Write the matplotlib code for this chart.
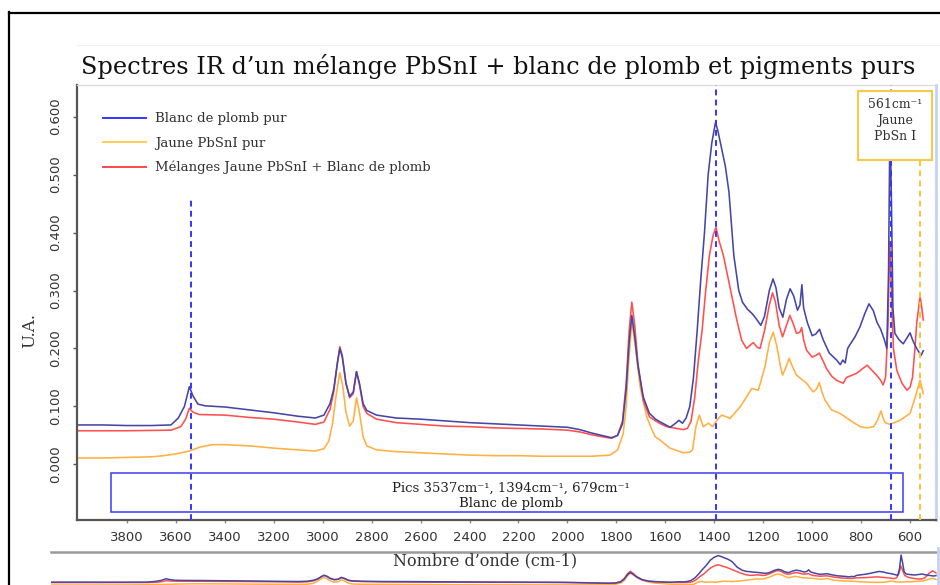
import matplotlib
matplotlib.use("Agg")
import matplotlib.pyplot as plt
from matplotlib.lines import Line2D
from matplotlib.patches import Rectangle

W, H, DPI = 940, 585, 100
SERIF = "DejaVu Serif"

# --- spectra (wavenumber in cm-1, absorbance in U.A.) ---
wn_blanc = [4000, 3900, 3800, 3700, 3620, 3590, 3565, 3545, 3530, 3510, 3480, 3400, 3300, 3200,
            3100, 3030, 2995, 2970, 2955, 2940, 2930, 2920, 2905, 2890, 2875, 2862, 2850, 2835,
            2820, 2780, 2700, 2600, 2500, 2400, 2300, 2200, 2100, 2000, 1950, 1900, 1850, 1820,
            1795, 1775, 1760, 1748, 1737, 1725, 1712, 1690, 1665, 1640, 1620, 1580, 1555, 1545,
            1530, 1515, 1500, 1485, 1470, 1455, 1440, 1425, 1410, 1395, 1385, 1370, 1355, 1340,
            1320, 1300, 1285, 1265, 1245, 1230, 1210, 1195, 1175, 1160, 1148, 1135, 1120, 1105,
            1090, 1075, 1060, 1050, 1042, 1035, 1020, 1000, 985, 970, 955, 930, 900, 885, 875,
            865, 855, 845, 825, 805, 785, 768, 750, 735, 720, 705, 695, 688, 682, 676, 670, 662,
            645, 628, 610, 600, 590, 573, 555, 546]
ua_blanc = [0.068, 0.068, 0.067, 0.067, 0.068, 0.080, 0.100, 0.134, 0.118, 0.104, 0.101, 0.099,
            0.094, 0.089, 0.083, 0.080, 0.085, 0.105, 0.130, 0.175, 0.200, 0.185, 0.140, 0.117,
            0.125, 0.160, 0.140, 0.105, 0.093, 0.085, 0.080, 0.078, 0.075, 0.072, 0.070, 0.068,
            0.066, 0.064, 0.060, 0.054, 0.049, 0.046, 0.050, 0.070, 0.130, 0.210, 0.257, 0.220,
            0.170, 0.116, 0.088, 0.078, 0.073, 0.064, 0.072, 0.076, 0.071, 0.080, 0.100, 0.150,
            0.230, 0.320, 0.400, 0.500, 0.555, 0.590, 0.575, 0.545, 0.515, 0.470, 0.360, 0.300,
            0.280, 0.268, 0.260, 0.252, 0.240, 0.255, 0.300, 0.320, 0.305, 0.270, 0.254, 0.285,
            0.303, 0.290, 0.266, 0.275, 0.310, 0.270, 0.245, 0.222, 0.225, 0.233, 0.215, 0.192,
            0.180, 0.172, 0.180, 0.175, 0.200, 0.207, 0.220, 0.237, 0.260, 0.277, 0.265, 0.245,
            0.233, 0.215, 0.200, 0.330, 0.600, 0.450, 0.270, 0.226, 0.215, 0.208, 0.220, 0.227,
            0.215, 0.200, 0.188, 0.196]

wn_jaune = [4000, 3900, 3800, 3700, 3650, 3600, 3545, 3500, 3450, 3400, 3300, 3200, 3100, 3030,
            2995, 2975, 2960, 2945, 2930, 2918, 2905, 2890, 2875, 2862, 2850, 2835, 2820, 2780,
            2700, 2600, 2500, 2400, 2300, 2200, 2100, 2000, 1900, 1826, 1795, 1772, 1760, 1751,
            1737, 1724, 1703, 1676, 1655, 1642, 1622, 1581, 1527, 1500, 1489, 1475, 1461, 1445,
            1424, 1406, 1390, 1370, 1350, 1336, 1295, 1270, 1247, 1220, 1193, 1175, 1159, 1145,
            1130, 1121, 1105, 1094, 1080, 1064, 1023, 996, 982, 971, 960, 948, 921, 886, 845,
            804, 775, 749, 733, 719, 710, 702, 682, 641, 600, 580, 559, 546]
ua_jaune = [0.011, 0.011, 0.012, 0.013, 0.015, 0.018, 0.023, 0.030, 0.034, 0.034, 0.032, 0.028,
            0.025, 0.023, 0.027, 0.040, 0.070, 0.120, 0.158, 0.135, 0.090, 0.066, 0.075, 0.115,
            0.090, 0.048, 0.032, 0.025, 0.022, 0.020, 0.018, 0.016, 0.015, 0.015, 0.014, 0.014,
            0.014, 0.016, 0.025, 0.053, 0.100, 0.168, 0.246, 0.208, 0.134, 0.082, 0.060, 0.048,
            0.042, 0.028, 0.020, 0.021, 0.025, 0.065, 0.085, 0.065, 0.071, 0.065, 0.076, 0.085,
            0.082, 0.079, 0.099, 0.115, 0.131, 0.128, 0.168, 0.210, 0.228, 0.205, 0.170, 0.154,
            0.170, 0.183, 0.168, 0.154, 0.140, 0.125, 0.130, 0.141, 0.125, 0.111, 0.094, 0.088,
            0.076, 0.065, 0.063, 0.065, 0.076, 0.092, 0.080, 0.072, 0.069, 0.076, 0.088, 0.114,
            0.145, 0.122]

wn_melange = [4000, 3800, 3620, 3580, 3560, 3545, 3530, 3505, 3400, 3300, 3200, 3100, 3030, 2995,
              2970, 2955, 2940, 2930, 2920, 2905, 2890, 2875, 2862, 2850, 2835, 2820, 2780, 2700,
              2600, 2500, 2400, 2300, 2200, 2100, 2000, 1950, 1900, 1850, 1820, 1795, 1775, 1760,
              1748, 1737, 1725, 1712, 1690, 1665, 1640, 1620, 1594, 1554, 1527, 1510, 1495, 1480,
              1465, 1450, 1435, 1420, 1405, 1393, 1380, 1363, 1336, 1308, 1288, 1268, 1250, 1240,
              1225, 1213, 1195, 1175, 1162, 1150, 1135, 1121, 1105, 1091, 1075, 1064, 1050, 1043,
              1035, 1023, 1000, 985, 971, 955, 941, 920, 900, 885, 873, 860, 848, 818, 795, 775,
              755, 737, 720, 710, 700, 690, 683, 676, 668, 654, 633, 613, 600, 590, 580, 573, 559,
              552, 546]
ua_melange = [0.058, 0.058, 0.059, 0.065, 0.078, 0.097, 0.090, 0.086, 0.085, 0.081, 0.078, 0.073,
              0.069, 0.073, 0.095, 0.125, 0.175, 0.203, 0.188, 0.140, 0.115, 0.122, 0.160, 0.138,
              0.100, 0.088, 0.078, 0.072, 0.069, 0.066, 0.065, 0.063, 0.062, 0.061, 0.059, 0.056,
              0.051, 0.047, 0.045, 0.050, 0.075, 0.140, 0.230, 0.280, 0.240, 0.175, 0.110, 0.082,
              0.075, 0.070, 0.065, 0.062, 0.060, 0.062, 0.074, 0.115, 0.180, 0.230, 0.300, 0.360,
              0.395, 0.409, 0.385, 0.361, 0.306, 0.249, 0.214, 0.200, 0.207, 0.210, 0.202, 0.200,
              0.230, 0.275, 0.296, 0.280, 0.240, 0.220, 0.240, 0.257, 0.240, 0.226, 0.228, 0.236,
              0.215, 0.197, 0.185, 0.188, 0.192, 0.178, 0.165, 0.152, 0.145, 0.142, 0.140, 0.150,
              0.152, 0.157, 0.165, 0.171, 0.162, 0.154, 0.145, 0.137, 0.150, 0.240, 0.385, 0.300,
              0.200, 0.162, 0.140, 0.128, 0.133, 0.150, 0.200, 0.243, 0.290, 0.270, 0.249]

labels = ["Blanc de plomb pur", "Jaune PbSnI pur", "Mélanges Jaune PbSnI + Blanc de plomb"]
line_colors = ["#4646a6", "#ffb040", "#ff4f4f"]
legend_colors = ["#3434ff", "#ffcc58", "#ff4848"]

# characteristic bands
pics_blanc = [3537, 1394, 679]
pic_jaune = 561

x_ticks = list(range(3800, 500, -200))
y_ticks = [0.0, 0.1, 0.2, 0.3, 0.4, 0.5, 0.6]


def fx(px):
    return px / W


def fy(py):
    return 1 - py / H


fig = plt.figure(figsize=(W / DPI, H / DPI), dpi=DPI)
fig.patch.set_facecolor("white")

# outer frame and faint container edge
fig.add_artist(Line2D([fx(9), fx(9)], [fy(12), 0], transform=fig.transFigure, color="black", lw=1.6))
fig.add_artist(Line2D([fx(9), 1], [fy(12.5), fy(12.5)], transform=fig.transFigure, color="black", lw=1.6))
fig.add_artist(Line2D([fx(77), 1], [fy(45), fy(45)], transform=fig.transFigure, color="#f0f0f0", lw=0.8))

# main spectrum panel
ax = fig.add_axes([fx(77), fy(520), (936 - 77) / W, (520 - 85) / H])
series = [(wn_jaune, ua_jaune, 1), (wn_melange, ua_melange, 2), (wn_blanc, ua_blanc, 0)]
for wn, ua, i in series:
    ax.plot(wn, ua, color=line_colors[i], lw=1.15, zorder=2)

ax.set_xlim(4004, 494)
ax.set_ylim(-0.096, 0.6546)
ax.set_xticks(x_ticks)
ax.set_yticks(y_ticks)
ax.set_yticklabels([f"{v:.3f}" for v in y_ticks])

for side in ["left", "bottom"]:
    ax.spines[side].set_color("#555555")
    ax.spines[side].set_linewidth(1.6)
ax.spines["top"].set_color("#dcdcdc")
ax.spines["top"].set_linewidth(1.0)
ax.spines["right"].set_color("#c3d3f0")
ax.spines["right"].set_linewidth(2.0)

ax.tick_params(axis="x", direction="out", length=2.5, width=1, color="#8a8a8a",
               pad=5.5, labelsize=9.5, labelcolor="#333333")
ax.tick_params(axis="y", direction="out", length=3, width=1, color="#555555",
               pad=7.5, labelsize=9.5, labelcolor="#333333", labelrotation=90)
for lbl in ax.get_yticklabels():
    lbl.set_verticalalignment("center")

# band markers
dash = (0, (3.0, 2.2))
ax.vlines(pics_blanc[0], -0.096, 0.461, colors="#3434ff", lw=1.4, linestyles=dash, zorder=3)
ax.vlines(pics_blanc[1:], -0.096, 0.6546, colors="#3434ff", lw=1.4, linestyles=dash, zorder=3)
ax.vlines(pic_jaune, -0.096, 0.5254, colors="#ffc133", lw=1.4, linestyles=dash, zorder=3)

# annotation boxes
ax.add_patch(Rectangle((0.0396, 0.0184), 0.9616 - 0.0396, 0.108 - 0.0184, transform=ax.transAxes,
                       fill=False, edgecolor="#3a3aff", lw=1.1, zorder=4))
ax.text(0.5047, 0.0736, "Pics 3537cm⁻¹, 1394cm⁻¹, 679cm⁻¹", transform=ax.transAxes,
        ha="center", va="center", family=SERIF, fontsize=9.5, color="#222222", zorder=5)
ax.text(0.5047, 0.0385, "Blanc de plomb", transform=ax.transAxes,
        ha="center", va="center", family=SERIF, fontsize=9.5, color="#222222", zorder=5)

ax.add_patch(Rectangle((0.909, 0.8276), 0.9953 - 0.909, 0.9862 - 0.8276, transform=ax.transAxes,
                       facecolor="white", edgecolor="#f8c84a", lw=1.5, zorder=6, clip_on=False))
ax.text(0.952, 0.918, "561cm⁻¹\nJaune\nPbSn I", transform=ax.transAxes, ha="center", va="center",
        family=SERIF, fontsize=9, color="#333333", linespacing=1.3, zorder=7)

# legend
handles = [Line2D([], [], color=c, lw=1.4) for c in legend_colors]
leg = ax.legend(handles, labels, loc="upper left", bbox_to_anchor=(0.0303, 0.9374), frameon=False,
                prop={"family": SERIF, "size": 9.5}, handlelength=3.25, handletextpad=0.7,
                labelspacing=0.86, borderpad=0, borderaxespad=0)
for t in leg.get_texts():
    t.set_color("#333333")

# titles
fig.text(fx(498), fy(74), "Spectres IR d’un mélange PbSnI + blanc de plomb et pigments purs",
         ha="center", va="baseline", family=SERIF, fontsize=17.3, color="#111111")
fig.text(fx(30), fy(330), "U.A.", rotation=90, ha="center", va="center",
         family=SERIF, fontsize=12, color="#333333")

# overview strip
ov = fig.add_axes([fx(51), -20 / H, (937 - 51) / W, 53 / H])
for wn, ua, i in series:
    ov.plot(wn, ua, color=line_colors[i], lw=1.1)
ov.set_xlim(3993, 542)
ov.set_ylim(-0.382, 0.66)
ov.set_xticks([])
ov.set_yticks([])
for side in ["left", "right", "bottom"]:
    ov.spines[side].set_visible(False)
ov.spines["top"].set_color("#9a9a9a")
ov.spines["top"].set_linewidth(1.8)
ov.patch.set_alpha(0)

fig.text(fx(485), fy(561), "Nombre d’onde (cm-1)", ha="center", va="center",
         family=SERIF, fontsize=11.5, color="#333333", zorder=10)

fig.add_artist(Line2D([fx(938), fx(938)], [fy(548), 0], transform=fig.transFigure,
                      color="#c3d3f0", lw=2.0))

fig.savefig("out.png", dpi=DPI)
